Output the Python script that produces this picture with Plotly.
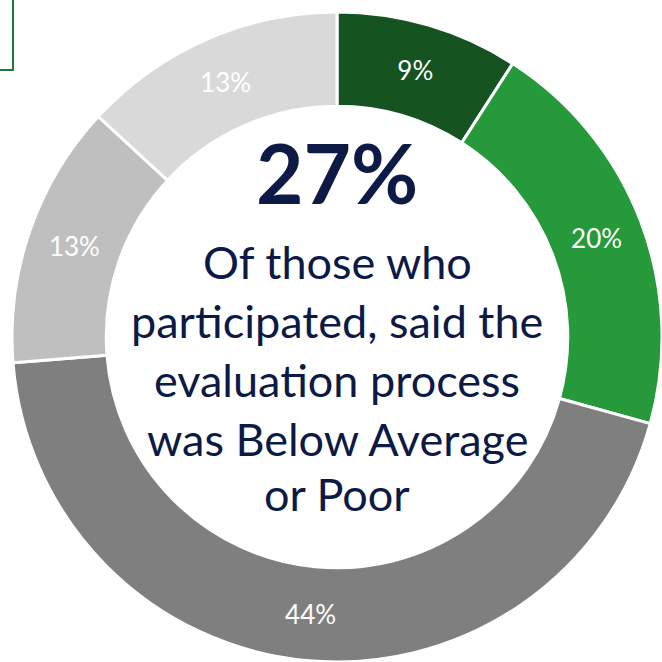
import plotly.graph_objects as go

# Survey rating shares (percent), clockwise from 12 o'clock
categories = ["Excellent", "Above Average", "Average", "Below Average", "Poor"]
shares = [9, 20, 44, 13, 13]
slice_colors = ["#155321", "#269A3B", "#7F7F7F", "#BFBFBF", "#D9D9D9"]

headline = "27%"
caption_lines = [
    "Of those who",
    "participated, said the",
    "evaluation process",
    "was Below Average",
    "or Poor",
]

W = H = 662
NAVY = "#0C1A45"
FONT = "Lato"

fig = go.Figure(
    go.Pie(
        labels=categories,
        values=shares,
        text=[f"{v}%" for v in shares],
        textinfo="text",
        textposition="inside",
        insidetextorientation="horizontal",
        textfont=dict(family=FONT, size=26, color="white"),
        marker=dict(colors=slice_colors, line=dict(color="white", width=3)),
        hole=0.71,
        sort=False,
        direction="clockwise",
        rotation=0,
        domain=dict(x=[12 / W, 1.0], y=[0.0, 650 / H]),
        hoverinfo="label+percent",
        showlegend=False,
    )
)

annotations = [
    dict(
        text=f"<b>{headline}</b>",
        x=337 / W, y=1 - 172 / H, xref="paper", yref="paper",
        xanchor="center", yanchor="middle", showarrow=False,
        font=dict(family=FONT, size=82, color=NAVY),
    )
]
line_centres = [262, 321, 380, 439, 494]
for line, yc in zip(caption_lines, line_centres):
    annotations.append(
        dict(
            text=line,
            x=337 / W, y=1 - yc / H, xref="paper", yref="paper",
            xanchor="center", yanchor="middle", showarrow=False,
            font=dict(family=FONT, size=45, color=NAVY),
        )
    )

fig.update_layout(
    width=W,
    height=H,
    margin=dict(l=0, r=0, t=0, b=0),
    paper_bgcolor="white",
    plot_bgcolor="white",
    annotations=annotations,
    shapes=[
        # framed callout box clipped at the top-left corner
        dict(
            type="rect", xref="paper", yref="paper",
            x0=-0.05, x1=13 / W, y0=1 - 70 / H, y1=1.05,
            line=dict(color="#217A34", width=2), fillcolor="rgba(0,0,0,0)",
        )
    ],
)

fig.write_html("out.html")
